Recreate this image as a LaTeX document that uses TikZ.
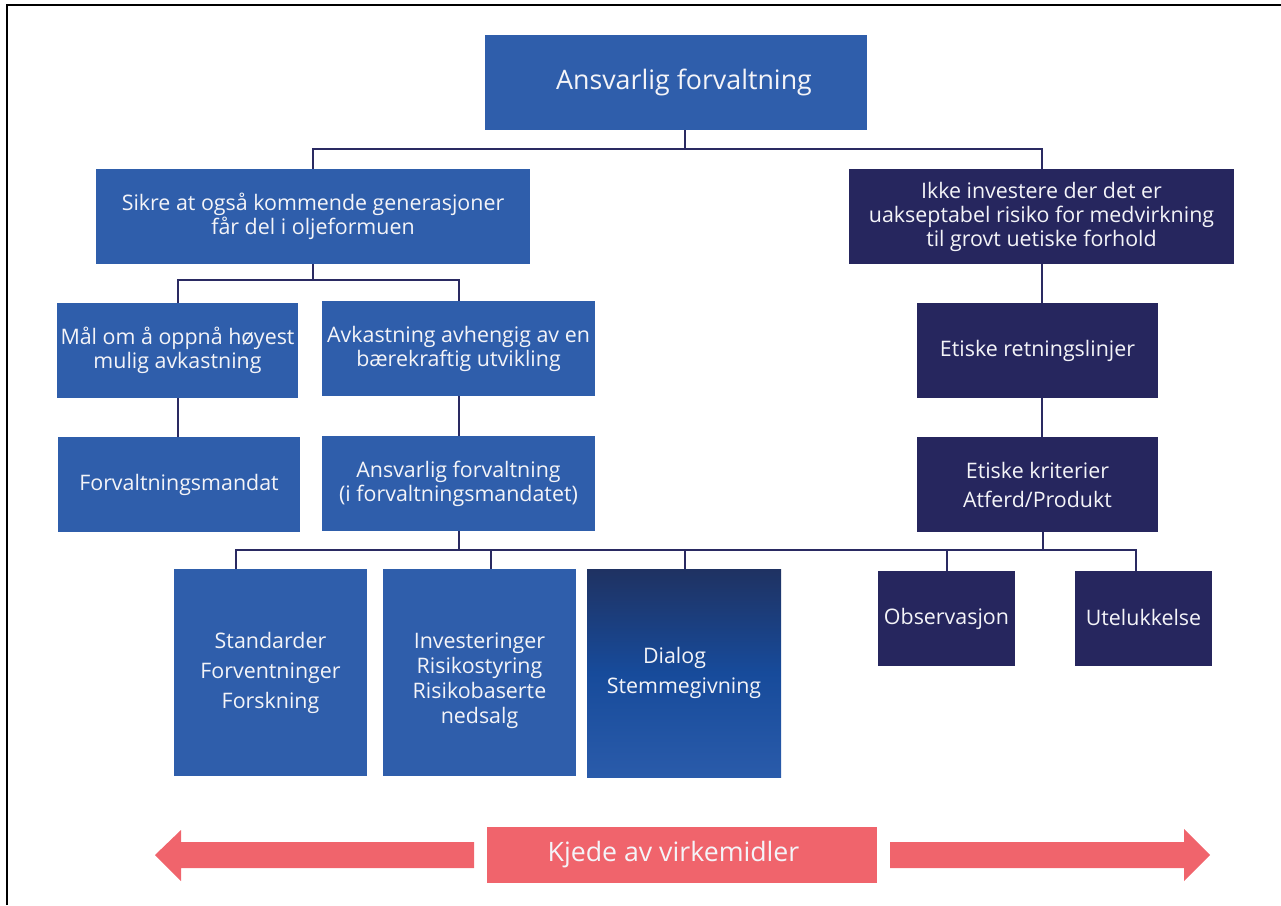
\documentclass[tikz,border=0pt]{standalone}
\usepackage{fontspec}
\setmainfont{Open Sans}
\definecolor{fblue}{HTML}{2F5EAB}
\definecolor{navy}{HTML}{26265E}
\definecolor{lnavy}{HTML}{2A2A62}
\definecolor{fpink}{HTML}{F0646C}
\definecolor{txt}{HTML}{F4F4F8}
\definecolor{gtop}{HTML}{1F3262}
\definecolor{gmid}{HTML}{174B9B}
\definecolor{gbot}{HTML}{2A5BAA}
\tikzset{
  bbox/.style={rectangle, fill=fblue, text=txt, inner sep=0pt, align=center,
    font=\fontsize{21.4}{24}\selectfont},
  nbox/.style={bbox, fill=navy},
  conn/.style={draw=lnavy, line width=2pt},
  tlabel/.style={text=txt, inner sep=0pt, align=center, font=\fontsize{21.4}{25}\selectfont},
}
\begin{document}
\begin{tikzpicture}[x=1pt,y=-1pt]
\useasboundingbox (0,0) rectangle (1281,905);
\draw[line width=1.4pt] (7,905) -- (7,5) -- (1281,5);

% boxes
\node[bbox, minimum width=382, minimum height=95, font=\fontsize{26.8}{30}\selectfont] (top) at (676,82.5) {\hspace*{16pt}Ansvarlig forvaltning};
\node[bbox, minimum width=434, minimum height=95] (L1L) at (313,216.5) {Sikre at også kommende generasjoner\\får del i oljeformuen};
\node[nbox, minimum width=385, minimum height=95] (L1R) at (1041.5,216.5) {Ikke investere der det er\\uakseptabel risiko for medvirkning\\til grovt uetiske forhold};
\node[bbox, minimum width=241, minimum height=95] (L2a) at (177.5,350.5) {Mål om å oppnå høyest\\mulig avkastning};
\node[bbox, minimum width=273, minimum height=95] (L2b) at (458.5,348.5) {Avkastning avhengig av en\\bærekraftig utvikling};
\node[bbox, minimum width=242, minimum height=95] (L3a) at (179,484.5) {Forvaltningsmandat};
\node[bbox, minimum width=273, minimum height=95] (L3b) at (458.5,483.5) {Ansvarlig forvaltning\\(i forvaltningsmandatet)};
\node[nbox, minimum width=241, minimum height=95] (R2) at (1037.5,350.5) {Etiske retningslinjer};
\node[nbox, minimum width=241, minimum height=95, font=\fontsize{21.4}{29}\selectfont] (R3) at (1037.5,484.5) {Etiske kriterier\\Atferd/Produkt};
\node[bbox, minimum width=193, minimum height=207, font=\fontsize{21.4}{30}\selectfont] (B1) at (270.5,672.5) {Standarder\\Forventninger\\Forskning};
\node[bbox, minimum width=193, minimum height=207] (B2) at (479.5,672.5) {};
\node[tlabel] (B2t) at (479.5,681) {Investeringer\\Risikostyring\\Risikobaserte\\nedsalg};
\node[bbox, minimum width=194, minimum height=208, top color=gtop, bottom color=gbot, middle color=gmid, font=\fontsize{21.4}{30}\selectfont] (B3) at (684,673) {Dialog\hspace*{19pt}\\Stemmegivning};
\node[nbox, minimum width=137, minimum height=95] (Obs) at (946.5,618.5) {Observasjon};
\node[nbox, minimum width=137, minimum height=95] (Ute) at (1143.5,618.5) {\raisebox{2pt}{Utelukkelse}};

% connectors
\coordinate (j1) at (685,149);
\draw[conn] ([xshift=9]top.south) -- (j1);
\draw[conn] (L1L.north) |- (j1) -| (L1R.north);
\draw[conn] (L1L.south) -- ++(0,16) coordinate (j2);
\draw[conn] (L2a.north) |- (j2) -| (L2b.north);
\draw[conn] (L2a.south) -- (L2a.south |- L3a.north);
\draw[conn] (L2b.south) -- (L2b.south |- L3b.north);
\draw[conn] (L1R.south) -- (L1R.south |- R2.north);
\draw[conn] ([xshift=4.5]R2.south) -- ([xshift=4.5]R3.north);
\coordinate (bus) at (0,550);
\coordinate (bL) at (236,550);
\coordinate (bR) at (1136,550);
\draw[conn] (L3b.south) -- (L3b.south |- bus);
\draw[conn] ([xshift=5]R3.south) -- ([xshift=5]R3.south |- bus);
\draw[conn] ([xshift=-34.5]B1.north) -- (bL) -- (bR) -- ([xshift=-7.5]Ute.north);
\draw[conn] ([xshift=11.5]B2.north) -- ([xshift=11.5]B2.north |- bus);
\draw[conn] ([xshift=1]B3.north) -- ([xshift=1]B3.north |- bus);
\draw[conn] (Obs.north) -- (Obs.north |- bus);

% chain of instruments
\node[bbox, fill=fpink, minimum width=390, minimum height=56, font=\fontsize{26.7}{30}\selectfont] (kjede) at (682,854.5) {Kjede av virkemidler\hspace*{17pt}};
\fill[fpink] (474,842) -- (181,842) -- (181,830) -- (155,855) -- (181,881) -- (181,868) -- (474,868) -- cycle;
\fill[fpink] (890,842) -- (1184,842) -- (1184,829) -- (1210,855) -- (1184,881) -- (1184,868) -- (890,868) -- cycle;
\end{tikzpicture}
\end{document}
